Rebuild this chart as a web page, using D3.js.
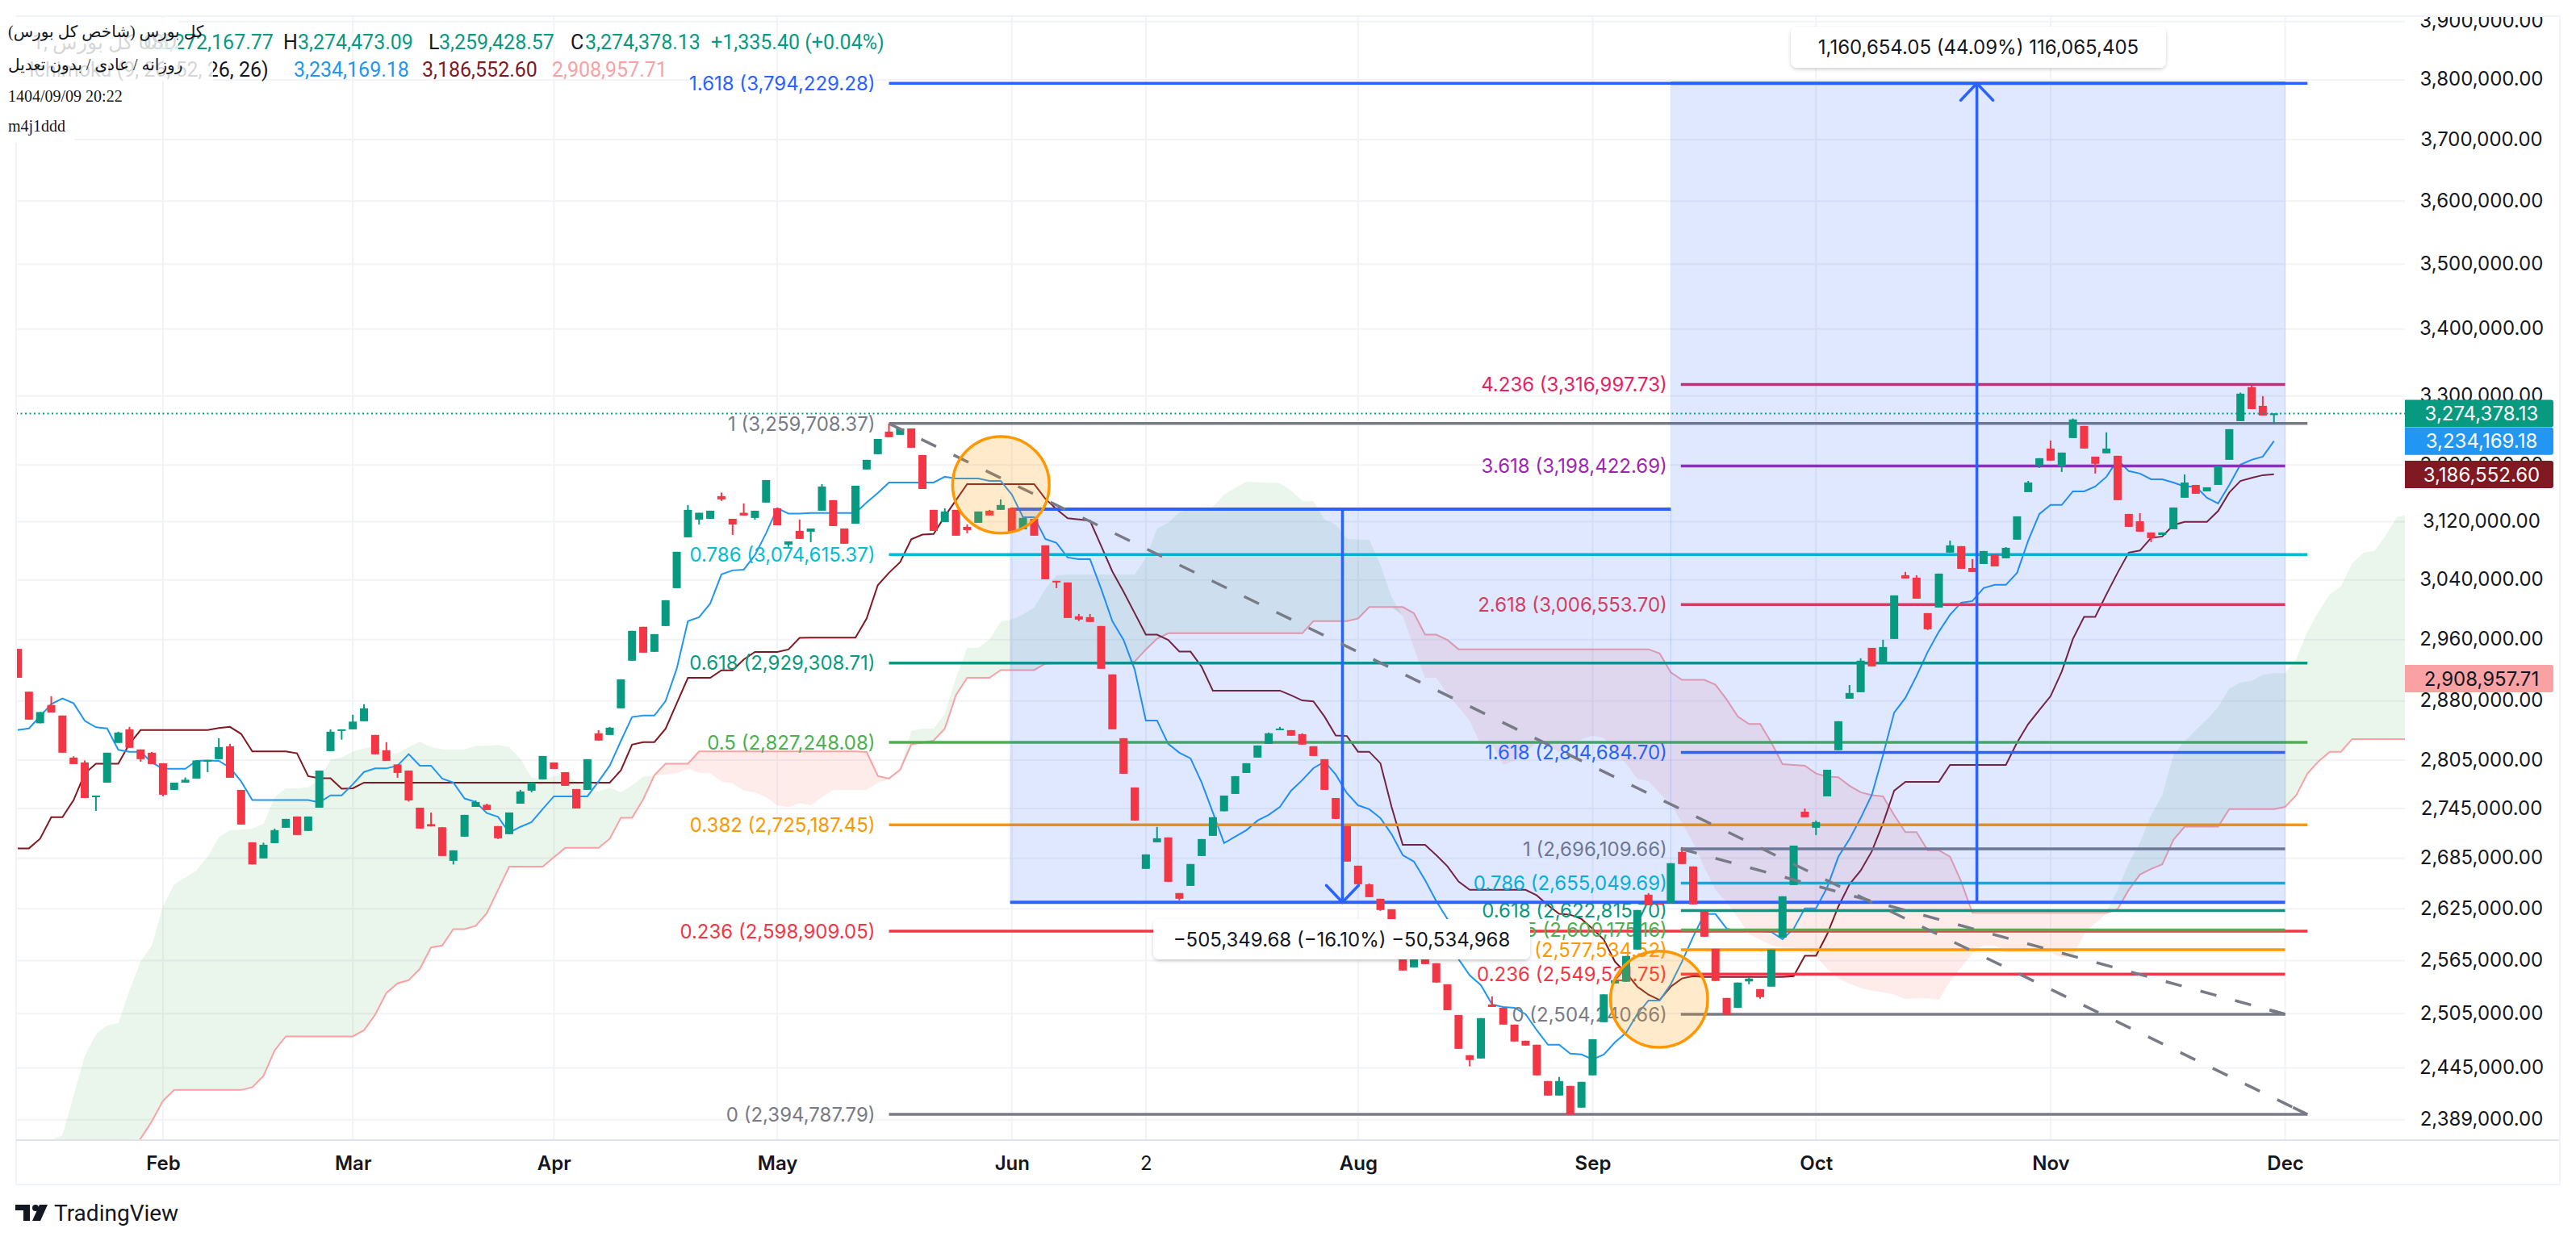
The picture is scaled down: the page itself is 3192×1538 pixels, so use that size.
<!DOCTYPE html>
<html>
<head>
<meta charset="utf-8">
<script src="https://cdnjs.cloudflare.com/ajax/libs/d3/7.8.5/d3.min.js"></script>
<style>
  html, body { margin: 0; padding: 0; background: #fff; }
</style>
</head>
<body>
<div id="viz"></div>
<script>
// candles, in thousands of index points
var opens = [2947.8,2892,2851.5,2874.9,2861.4,2808.2,2802.1,2759,2777,2826.6,2843.8,2818.4,2814.3,2801.1,2768,2777,2782,2804.1,2806.2,2822.4,
2768,2704,2684.6,2703,2721.6,2735.3,2717.7,2746.1,2816.3,2841.8,2843.8,2854.1,2836.7,2817.4,2799.6,2792,2746.1,2726,2722.2,2681.7,
2710.8,2747.1,2749.6,2723.6,2713.8,2751,2767,2781,2802.1,2790,2769,2768,2838.8,2836.7,2870.6,2932.3,2977,2943.9,2978,3028.8,
3098.3,3122.9,3124,3155.7,3124,3132.4,3125.2,3146.7,3138.7,3088.3,3107.2,3106.1,3135.3,3150.1,3110.5,3117.2,3193.5,3215.4,3247.9,3243.3,
3252.6,3214.2,3136.5,3119.5,3136.5,3112.8,3118.4,3135.3,3136.5,3138.7,3109.4,3124,3087.2,3038.7,3036.5,2990.9,2989.8,2978,2914.4,2832.6,
2771,2672.1,2704,2709.9,2643.4,2651.9,2687.5,2711.8,2741.7,2763,2789,2808.2,2825.5,2842.8,2842.8,2837.7,2822.4,2806.2,2758,2723.6,
2675.9,2653.8,2636.7,2624.4,2586,2557.2,2572.9,2561.9,2538,2503.4,2458.9,2455.3,2515.2,2511.5,2492.7,2474.8,2470.4,2430.7,2415,2425.4,
2402,2436.9,2495.4,2538.9,2540.8,2577.6,2641.5,2631.6,2632,2692.4,2675,2621.6,2578.5,2522.5,2511.5,2541.2,2532.5,2535.3,2591.5,2652.9,
2741.2,2721.6,2760,2817.4,2883,2891.3,2949.1,2929.1,2960.9,3046.3,3043,2995.2,3002.7,3077.2,3086.1,3056.1,3061.6,3074.9,3069.4,3095,
3161.4,3199.4,3223.5,3198.2,3238.6,3256.2,3211.9,3216.6,3213.1,3130.8,3120.6,3105,3101.6,3109.4,3153.5,3171.6,3162.5,3171.6,3207.3,3263.2,
3313,3285.5,3272.2];
var closes = [2910,2856.2,2865.8,2865.3,2814.3,2800.1,2758,2761,2814.3,2839.8,2820.4,2806.2,2800.1,2762,2777,2780.5,2804.6,2805.1,2821.4,2783,
2725.5,2677.4,2701,2718.7,2732.4,2712.8,2735.3,2792,2840.8,2843.8,2853.6,2870.6,2812.3,2804.1,2789,2755,2720.6,2723.2,2687.5,2694.3,
2737.3,2753,2743.2,2708.9,2740.2,2766,2777,2810.2,2794,2773,2745.1,2806.2,2829.6,2845.9,2908,2971.6,2942.8,2967.3,3012.5,3078.3,
3136.5,3132.4,3135.3,3151.2,3116.1,3128.6,3135.3,3178.5,3115,3092.7,3096.1,3110.5,3169.3,3113.9,3089.4,3170.4,3207.3,3237.4,3239.8,3252.6,
3224.6,3165.9,3107.2,3134.2,3100.5,3108.3,3134.2,3128.6,3143.3,3106.1,3125.2,3100.5,3040.8,3037.6,2988.7,2986.6,2983.4,2921.7,2843.8,2788,
2730.4,2689.4,2708.9,2656.7,2636.7,2677.9,2707.9,2734.4,2761,2785,2801.1,2823.4,2838.8,2844.8,2835.7,2824.5,2810.2,2768,2732.4,2680.8,
2653.8,2638.6,2623.5,2588.7,2553.6,2571.1,2560.9,2539.9,2508.8,2465.9,2453.6,2499.9,2512.4,2492.7,2474,2469.5,2436.9,2415,2430.7,2394.8,
2429.8,2476.5,2526.6,2542.6,2570.2,2623.5,2629.1,2630.1,2678.9,2677.9,2630.1,2592.4,2541.7,2503.4,2539.9,2544.4,2523.4,2577.6,2639.6,2700,
2734.4,2728.5,2793,2854.1,2890.3,2932.3,2924.8,2950.2,3019,3041.9,3014.6,2973.7,3048.5,3087.2,3055,3050.7,3079.4,3058.3,3083.8,3127.4,
3175,3209.6,3206.2,3217.7,3265.6,3223.5,3201.6,3223.5,3150.1,3112.8,3106.1,3097.2,3105,3139.8,3175,3159.1,3168.2,3198.2,3251.5,3303.4,
3280.8,3271.4,3274.4];
var highs = [2947.8,2892,2865.8,2886.2,2861.4,2809.7,2804.6,2761,2814.3,2840.8,2846.9,2818.4,2815.3,2801.1,2777,2783.4,2804.6,2805.1,2832.6,2825.4,
2768,2704,2703.5,2720.6,2732.4,2735.3,2735.3,2792,2843.8,2843.8,2862.4,2875.8,2836.7,2827.6,2799.6,2792,2746.1,2740.2,2722.2,2694.3,
2737.3,2755,2751,2723.6,2740.2,2768,2777,2810.2,2802.1,2790,2769,2806.2,2842.8,2846.9,2908,2971.6,2977,2967.3,3012.5,3078.3,
3143.3,3132.4,3135.3,3160.8,3124,3145.5,3135.3,3178.5,3138.7,3092.7,3122.9,3110.5,3172.7,3150.1,3110.5,3170.4,3207.3,3237.4,3259.7,3252.6,
3252.6,3214.2,3136.5,3138.7,3136.5,3116.1,3134.2,3136.5,3151.2,3138.7,3125.2,3124,3087.2,3038.7,3036.5,2994.1,2994.1,2978,2914.4,2832.6,
2771,2689.4,2722.6,2709.9,2643.4,2677.9,2707.9,2734.4,2761,2785,2801.1,2823.4,2839.8,2846.9,2842.8,2838.8,2822.4,2806.2,2758,2723.6,
2675.9,2654.8,2636.7,2624.4,2586,2574.8,2572.9,2561.9,2538,2503.4,2458.9,2499.9,2524.3,2511.5,2492.7,2474.8,2470.4,2430.7,2435.1,2425.4,
2429.8,2476.5,2526.6,2542.6,2570.2,2623.5,2643.4,2631.6,2678.9,2698.2,2675,2621.6,2578.5,2522.5,2539.9,2545.4,2532.5,2577.6,2639.6,2700,
2745.1,2730.4,2793,2854.1,2900.6,2935.4,2949.1,2959.8,3019,3050.7,3046.3,2995.2,3048.5,3093.8,3086.1,3068.3,3079.4,3074.9,3084.8,3127.4,
3177.3,3209.6,3235.1,3217.7,3267,3256.2,3211.9,3246.8,3213.1,3130.8,3131.9,3105,3105,3139.8,3186.5,3171.6,3168.2,3198.2,3251.5,3305,
3315.4,3299.8,3274.5];
var lows = [2910,2856.2,2851.5,2865.3,2814.3,2800.1,2758,2742.2,2777,2826.6,2820.4,2803.1,2800.1,2760,2768,2777,2782,2790,2806.2,2783,
2725.5,2677.4,2684.6,2703,2721.6,2712.8,2717.7,2746.1,2816.3,2830.7,2843.8,2854.1,2812.3,2804.1,2783,2753.6,2720.6,2723.2,2687.5,2677.4,
2710.8,2747.1,2743.2,2707.9,2713.8,2751,2765,2781,2794,2773,2745.1,2768,2829.6,2836.7,2870.6,2932.3,2942.8,2943.9,2978,3028.8,
3098.3,3116.1,3124,3149,3101.6,3128.6,3122.9,3146.7,3115,3085,3096.1,3091.6,3135.3,3113.9,3089.4,3117.2,3193.5,3215.4,3239.8,3243.3,
3224.6,3165.9,3107.2,3119.5,3100.5,3103.9,3118.4,3128.6,3136.5,3106.1,3109.4,3100.5,3040.8,3028.8,2988.7,2984.5,2983.4,2921.7,2843.8,2788,
2730.4,2672.1,2704,2656.7,2634.8,2651.9,2687.5,2711.8,2741.7,2763,2789,2808.2,2825.5,2842.8,2835.7,2824.5,2810.2,2768,2732.4,2680.8,
2653.8,2638.6,2622.5,2588.7,2553.6,2557.2,2560.9,2539.9,2508.8,2465.9,2446.6,2455.3,2512.4,2492.7,2474,2469.5,2436.9,2415,2415,2394.8,
2402,2436.9,2495.4,2538.9,2540.8,2577.6,2629.1,2630.1,2632,2677.9,2630.1,2592.4,2541.7,2503.4,2511.5,2538,2521.6,2535.3,2591.5,2652.9,
2734.4,2712.8,2760,2817.4,2883,2891.3,2924.8,2929.1,2960.9,3041.9,3014.6,2972.7,3002.7,3077.2,3055,3050.7,3061.6,3058.3,3069.4,3095,
3161.4,3195.8,3206.2,3190,3238.6,3223.5,3187.7,3216.6,3150.1,3112.8,3106.1,3091.6,3101.6,3109.4,3153.5,3159.1,3162.5,3171.6,3207.3,3263.2,
3280.8,3271.4,3259.4];

// Ichimoku conversion and base lines, one value per bar
var conversion = [2842.9,2845,2860.4,2876,2883.4,2877,2854.6,2846.5,2845,2817.9,2815.5,2815.5,2802.1,2794.2,2794.2,2794.2,2804.1,2804.6,2804.1,2795.6,
2778.5,2755.4,2755.4,2755.4,2755.4,2755.4,2755.4,2752.6,2761.3,2761.3,2775,2790.2,2794.6,2794.6,2798.1,2812.5,2798.1,2798.1,2782,2777,
2757.4,2753,2739.5,2734.8,2715.7,2722.7,2728.5,2744.4,2760,2760,2760,2760,2778.5,2798.1,2829.1,2859.5,2861.3,2861.3,2880,2921.9,
2984.5,2989.8,3008.1,3047.4,3052.9,3053.9,3073.8,3103.9,3138.7,3131.4,3131.4,3132,3132,3132,3132,3132,3146.7,3160.2,3175,3175,
3175,3175,3175,3183.1,3180.8,3180.8,3180.8,3177.3,3177.3,3158,3126.3,3126.3,3096.1,3090.5,3070.5,3068.3,3068.3,3027.7,2984.5,2959.8,
2920.7,2855.1,2855.1,2825.5,2814.3,2807.2,2777,2740.2,2703,2710.8,2718.7,2730.4,2737.3,2747.1,2767,2780,2795,2803.1,2787,2764,
2749,2744.2,2733.4,2713.8,2688.5,2680.8,2658.7,2633.9,2613,2566.5,2548,2537,2515.2,2512.4,2511.5,2504.3,2486.5,2470.4,2470.4,2460.6,
2459.7,2454.4,2459.7,2473,2483.8,2504.3,2519.7,2519.7,2538,2563.7,2592.4,2618.8,2618.8,2601.7,2598.9,2598.9,2598.9,2598,2589.6,2601.7,
2625.4,2625.4,2650,2686.6,2707.9,2733.4,2762,2811.3,2865.2,2884,2912.4,2943.9,2970.5,2993,3009.2,3011.4,3028.8,3033.2,3033.2,3049.6,
3093.9,3130.8,3143.3,3143.3,3162.5,3162.5,3169.3,3183.1,3207.3,3191.2,3187.7,3179.6,3179.6,3175,3169.3,3169.3,3153.5,3145.5,3171.6,3200.5,
3207.3,3211.9,3234.2];
var base = [2696.7,2696.7,2708.3,2734.4,2734.4,2755.4,2788.3,2800.6,2800.6,2800.6,2825.5,2842.9,2842.9,2842.9,2842.9,2842.9,2842.9,2842.9,2845.4,2846.9,
2838,2815.8,2815.8,2815.8,2815.8,2813.5,2785,2782.4,2782.4,2769.5,2770,2777,2777,2777,2777,2777,2777,2777,2777,2777,
2777,2777,2777,2777,2777,2777,2777,2777,2777,2777,2777,2777,2777,2777,2792.2,2824.5,2827.6,2827.6,2844.5,2877,
2910,2910,2910,2919.8,2919.8,2933.9,2943.7,2943.7,2943.7,2947,2962.4,2962.7,2962.7,2962.7,2962.7,2962.7,2988,3032.8,3049.6,3064.2,
3095.7,3102,3102.8,3127.4,3150.1,3172.7,3172.7,3172.7,3172.7,3172.7,3172.7,3172.7,3152,3137.4,3124.8,3123,3121.4,3086.4,3051.4,3024,
2995.2,2966.6,2966.6,2959.5,2944.2,2944.2,2924.2,2893.4,2893.4,2893.4,2893.4,2893.4,2893.4,2893.4,2887.5,2880.7,2879.6,2860,2836,2835.4,
2815.5,2815.5,2801.1,2747.1,2701,2701,2701,2688.5,2675.2,2657,2647.2,2647.2,2647.2,2647.2,2647.2,2647.2,2640.7,2629.3,2619,2618,
2613,2601.7,2589,2563.7,2550.8,2535.3,2526.2,2520.2,2535.3,2544.6,2547.2,2546.3,2546.3,2546.3,2546.3,2546.3,2546.3,2546.3,2546.3,2547.2,
2570.4,2570.4,2595.3,2627.6,2653.8,2670,2693.3,2727,2767,2778,2778,2778,2778,2799,2799,2799,2799,2799,2799,2827,
2850.5,2868.6,2886.2,2918,2960.9,2990.2,2990.2,3020.4,3049.6,3077.2,3080,3097.5,3099.4,3115.3,3119.7,3119.7,3119.7,3134.9,3160.8,3177.1,
3181.5,3185.4,3186.6];

// cloud spans, shifted 26 bars forward so they run past the last candle
var leadA = [2340,2350,2360,2367.6,2372.6,2415,2458,2482,2491.8,2494,2530.7,2564,2582,2627.5,2653.8,2661.8,2670,2686.7,2709.9,2718.7,
2719.2,2720.6,2726,2759,2770,2770,2771,2781,2805.6,2808.2,2815.6,2819.6,2823.1,2813.3,2813.3,2821.4,2828,2821.4,2818.4,2818.4,
2818.4,2823.1,2823.1,2824.1,2821.4,2806.6,2783.4,2781,2785,2788.3,2778.5,2769,2766,2771,2765,2773.6,2784.4,2786,2787,2788.3,
2794.2,2789.3,2788.3,2778.5,2776,2767.2,2765,2759,2749,2746.7,2751.6,2749,2759,2768,2768,2768,2768,2777,2783,2794,
2841.8,2844.8,2844.8,2863.4,2910,2949,2949.4,2959.8,2983.8,2986.6,2993.4,3002.7,3027.7,3046.3,3047.4,3047.4,3047.4,3047.4,3047.4,3047.4,
3047.4,3069.7,3110.5,3118.4,3133,3137.4,3137,3140.8,3158,3167,3176,3175.4,3175,3174.2,3163.6,3149.3,3148.6,3122.9,3116.1,3096.1,
3095,3094.7,3060.5,3016.8,2992,2949,2910,2910,2889.3,2871.9,2855,2824.5,2824.5,2799,2804.1,2814.3,2827.6,2824.5,2814.3,2824.5,
2830.9,2836,2832.6,2814.3,2800.4,2782,2779,2764,2750.4,2727.5,2703.4,2674,2647.2,2632.6,2614.6,2595.3,2589,2582.6,2579.4,2579.4,
2577.9,2569.9,2555.6,2544.6,2538.4,2533.6,2530.7,2528.9,2526.2,2521.2,2522.1,2522.1,2520.2,2541.7,2557.2,2572.9,2582.6,2582.6,2574.1,2574.1,
2574.1,2574.1,2574.1,2568.3,2570.2,2595.3,2608.3,2621.6,2647.2,2678.9,2703.4,2737.3,2761.5,2811.4,2829,2842.8,2856.4,2872.2,2896,2904,
2905.9,2914,2916,2916,2934.4,2970.9,2997.5,3020.4,3031,3062,3077,3079.4,3100.6,3126.3,3130.5];
var leadB = [2340,2340,2340,2340,2340,2340,2340,2340,2345,2350,2358,2369,2387.3,2409.3,2421,2421,2421,2421,2421,2421,
2421,2424,2436.2,2464.2,2479.6,2479.6,2479.6,2479.6,2479.6,2479.6,2479.6,2486.5,2503.7,2528.1,2539,2542.6,2555.4,2580,2582.2,2601.3,
2601.3,2605,2619.9,2647.2,2674.7,2674.7,2674.7,2674.7,2686,2697.2,2697.2,2697.2,2697.2,2708.3,2733.8,2733.8,2756.5,2786,2800.6,2800.6,
2800.6,2815.8,2815.8,2815.8,2815.8,2815.8,2815.8,2815.8,2815.8,2815.8,2815.8,2815.8,2815.8,2815.8,2815.8,2815.8,2815.2,2785.3,2782,2793,
2824.8,2826.8,2829.6,2844.8,2887.5,2910,2910,2910,2920,2920,2920,2920,2928.4,2929,2929,2929,2929,2929,2929,2929,
2931.2,2947,2961.2,2968.4,2968.4,2968.4,2968.4,2968.4,2968.4,2968.4,2968.4,2968.4,2968.4,2968.4,2968.4,2968.4,2984.5,2984.5,2984.5,2984.5,
2988,3003.4,3003.4,3003.4,3003.4,2995.2,2966.6,2966.6,2959.5,2947.3,2947.3,2947.3,2947.3,2947.3,2947.3,2947.3,2947.3,2947.3,2947.3,2947.3,
2947.3,2947.3,2947.3,2947.3,2947.3,2947.3,2947.3,2941.8,2917,2907.3,2907.3,2907.3,2901,2882,2860,2850.5,2850.5,2827,2800,2799,
2798,2788.3,2784.4,2783.7,2773,2765,2761.5,2760,2737,2716.3,2716.3,2694.3,2694.3,2686.7,2657,2620.2,2620.2,2620.2,2620.2,2620.2,
2620.2,2620.2,2620.2,2620.2,2620.2,2620.2,2620.2,2620.2,2624.4,2647.2,2665.3,2672.1,2677.5,2706.9,2722.9,2722.9,2722.9,2722.9,2744.4,2744.4,
2744.4,2744.4,2744.4,2747,2761.5,2788.3,2803.6,2815.5,2815.5,2831.5,2831.5,2831.5,2831.5,2831.5,2831.5];

var priceTicks = [3900000,3800000,3700000,3600000,3500000,3400000,3300000,3200000,3120000,3040000,2960000,2880000,2805000,2745000,2685000,2625000,2565000,2505000,2445000,2389000];
var monthBars = [13,30,48,68,89,101,120,141,161,182,203];
var monthNames = ["Feb","Mar","Apr","May","Jun","2","Aug","Sep","Oct","Nov","Dec"];

// fibonacci levels
var fibLeftRatios = ["0","0.236","0.382","0.5","0.618","0.786","1","1.618"];
var fibLeftPrices = [2394787.79,2598909.05,2725187.45,2827248.08,2929308.71,3074615.37,3259708.37,3794229.28];
var fibRightRatios = ["0","0.236","0.382","0.5","0.618","0.786","1","1.618","2.618","3.618","4.236"];
var fibRightPrices = [2504240.66,2549521.75,2577534.52,2600175.16,2622815.70,2655049.69,2696109.66,2814684.70,3006553.70,3198422.69,3316997.73];
var fibColors = {"0":"#787B86","0.236":"#F23645","0.382":"#FF9800","0.5":"#4CAF50","0.618":"#089981","0.786":"#00BCD4","1":"#787B86","1.618":"#2962FF","2.618":"#F23645","3.618":"#9C27B0","4.236":"#E91E63"};

var width = 3192, height = 1538;
var plotL = 20, plotR = 2980, plotT = 20, plotB = 1413, axisB = 1468, axisR = 3172;
var green = "#089981", red = "#F23645", blueInd = "#2196F3", brownInd = "#801922", pinkInd = "#FAA1A4", drawBlue = "#2962FF";
var axisFont = "Inter, Roboto, sans-serif", legendFont = "Roboto, sans-serif";

var x = d3.scaleLinear().domain([0, 214]).range([22, 2983.8]);
var yScale = d3.scaleLog().domain([3800000, 2389000]).range([99, 1387.8]);
var yk = function (k) { return yScale(k * 1000); };

var fmt = d3.format(",.2f");

var svg = d3.select("#viz").append("svg").attr("width", width).attr("height", height)
    .attr("font-family", axisFont).style("display", "block");

svg.append("clipPath").attr("id", "plot").append("rect")
    .attr("x", plotL).attr("y", plotT).attr("width", plotR - plotL).attr("height", plotB - plotT);
svg.append("clipPath").attr("id", "axisClip").append("rect")
    .attr("x", plotR).attr("y", plotT).attr("width", axisR - plotR).attr("height", plotB - plotT);

// grid
var gridColor = "#F2F3F6";
svg.append("g").selectAll("line").data(priceTicks).enter().append("line")
    .attr("x1", plotL).attr("x2", plotR)
    .attr("y1", function (d) { return yScale(d); }).attr("y2", function (d) { return yScale(d); })
    .attr("stroke", gridColor).attr("stroke-width", 2);
svg.append("g").selectAll("line").data(monthBars).enter().append("line")
    .attr("x1", function (d) { return x(d); }).attr("x2", function (d) { return x(d); })
    .attr("y1", plotT).attr("y2", plotB)
    .attr("stroke", gridColor).attr("stroke-width", 2);

var chart = svg.append("g").attr("clip-path", "url(#plot)");

// cloud
var idx = d3.range(leadA.length);
var cloudGreen = d3.area().x(function (d) { return x(d); })
    .y0(function (d) { return yk(Math.min(leadA[d], leadB[d])); })
    .y1(function (d) { return yk(leadA[d]); });
var cloudRed = d3.area().x(function (d) { return x(d); })
    .y0(function (d) { return yk(Math.min(leadA[d], leadB[d])); })
    .y1(function (d) { return yk(leadB[d]); });
chart.append("path").attr("d", cloudGreen(idx)).attr("fill", "#43A047").attr("opacity", 0.11);
chart.append("path").attr("d", cloudRed(idx)).attr("fill", "#F44336").attr("opacity", 0.1);

// indicator lines
function lineOf(values, color) {
    var gen = d3.line().x(function (d, i) { return x(i); }).y(function (d) { return yk(d); });
    chart.append("path").attr("d", gen(values)).attr("fill", "none").attr("stroke", color).attr("stroke-width", 2);
}
lineOf(leadB, pinkInd);
lineOf(base, brownInd);
lineOf(conversion, blueInd);

// fib levels with labels on the left of each line
function drawFib(ratios, prices, barStart, barEnd) {
    ratios.forEach(function (r, i) {
        var py = yScale(prices[i]);
        chart.append("line")
            .attr("x1", x(barStart)).attr("x2", x(barEnd)).attr("y1", py).attr("y2", py)
            .attr("stroke", fibColors[r]).attr("stroke-width", 3.5);
        chart.append("text")
            .attr("x", x(barStart) - 17).attr("y", py).attr("dy", "0.36em")
            .attr("text-anchor", "end").attr("font-size", 24)
            .attr("fill", fibColors[r])
            .text(r + " (" + fmt(prices[i]) + ")");
    });
}
drawFib(fibLeftRatios, fibLeftPrices, 78, 205);
drawFib(fibRightRatios, fibRightPrices, 148.9, 203);

// date and price ranges
var rangeBars = [[88.85, 148], [148, 203]];
var rangePrices = [[3137500, 2632500], [3794229.28, 2632500]];
rangeBars.forEach(function (b, i) {
    var top = yScale(rangePrices[i][0]), bot = yScale(rangePrices[i][1]);
    chart.append("rect").attr("x", x(b[0])).attr("y", top)
        .attr("width", x(b[1]) - x(b[0])).attr("height", bot - top)
        .attr("fill", drawBlue).attr("fill-opacity", 0.15)
        .attr("stroke", drawBlue).attr("stroke-opacity", 0.1);
    [top, bot].forEach(function (ly) {
        chart.append("line").attr("x1", x(b[0])).attr("x2", x(b[1])).attr("y1", ly).attr("y2", ly)
            .attr("stroke", drawBlue).attr("stroke-width", 4);
    });
});

// candles
var bars = chart.append("g").selectAll("g").data(opens).enter().append("g");
function barColor(i) { return closes[i] >= opens[i] ? green : red; }
bars.append("line")
    .attr("x1", function (d, i) { return x(i); }).attr("x2", function (d, i) { return x(i); })
    .attr("y1", function (d, i) { return yk(highs[i]); }).attr("y2", function (d, i) { return yk(lows[i]); })
    .attr("stroke", function (d, i) { return barColor(i); }).attr("stroke-width", 2);
bars.append("rect")
    .attr("x", function (d, i) { return x(i) - 5; }).attr("width", 10)
    .attr("y", function (d, i) { return yk(Math.max(opens[i], closes[i])); })
    .attr("height", function (d, i) { return Math.max(2, yk(Math.min(opens[i], closes[i])) - yk(Math.max(opens[i], closes[i]))); })
    .attr("fill", function (d, i) { return barColor(i); });

// range arrows
var arrowBars = [118.6, 175.4];
function arrow(bar, fromPrice, toPrice, dir) {
    var ax = x(bar), y0 = yScale(fromPrice), y1 = yScale(toPrice);
    chart.append("line").attr("x1", ax).attr("x2", ax).attr("y1", y0).attr("y2", y1)
        .attr("stroke", drawBlue).attr("stroke-width", 3.5);
    chart.append("path")
        .attr("d", "M" + (ax - 20) + "," + (y1 - dir * 21) + "L" + ax + "," + y1 + "L" + (ax + 20) + "," + (y1 - dir * 21))
        .attr("fill", "none").attr("stroke", drawBlue).attr("stroke-width", 3.5).attr("stroke-linecap", "round");
}
arrow(arrowBars[0], rangePrices[0][0], rangePrices[0][1], 1);
arrow(arrowBars[1], rangePrices[1][1], rangePrices[1][0], -1);

// dashed trend lines, each closed by a short solid stub
var trendBars = [[78, 205], [148.9, 203]];
var trendPrices = [[3259708.37, 2394787.79], [2696109.66, 2504240.66]];
trendBars.forEach(function (b, i) {
    var x1 = x(b[0]), x2 = x(b[1]), y1 = yScale(trendPrices[i][0]), y2 = yScale(trendPrices[i][1]);
    chart.append("line").attr("x1", x1).attr("x2", x2).attr("y1", y1).attr("y2", y2)
        .attr("stroke", "#787B86").attr("stroke-width", 3.5).attr("stroke-dasharray", "20.5 24");
    var a = Math.atan2(y2 - y1, x2 - x1), s = 20;
    chart.append("line")
        .attr("x1", x2 - s * Math.cos(a)).attr("y1", y2 - s * Math.sin(a)).attr("x2", x2).attr("y2", y2)
        .attr("stroke", "#787B86").attr("stroke-width", 3.5);
});

// highlight circles
var circleBars = [[83.7, 92.35], [142.6, 151.3]];
var circlePrices = [[3240800, 3103900], [2575700, 2467500]];
circleBars.forEach(function (b, i) {
    var cx = (x(b[0]) + x(b[1])) / 2, cy = (yScale(circlePrices[i][0]) + yScale(circlePrices[i][1])) / 2;
    chart.append("ellipse").attr("cx", cx).attr("cy", cy)
        .attr("rx", (x(b[1]) - x(b[0])) / 2)
        .attr("ry", (yScale(circlePrices[i][1]) - yScale(circlePrices[i][0])) / 2)
        .attr("fill", "#FF9800").attr("fill-opacity", 0.2)
        .attr("stroke", "#FF9800").attr("stroke-width", 3.5);
});

// dotted last price line
svg.append("line").attr("x1", plotL).attr("x2", plotR).attr("y1", yScale(3274378.13)).attr("y2", yScale(3274378.13))
    .attr("stroke", green).attr("stroke-width", 2).attr("stroke-dasharray", "2 3.5");

// range tooltips
var tipLabels = ["\u2212505,349.68 (\u221216.10%) \u221250,534,968", "1,160,654.05 (44.09%) 116,065,405"];
var tipBoxes = [{l: 1429, t: 1139, r: 1896, b: 1189}, {l: 2219, t: 33, r: 2684, b: 84}];
var defs = svg.append("defs");
var shadow = defs.append("filter").attr("id", "tipShadow").attr("x", "-10%").attr("y", "-30%").attr("width", "120%").attr("height", "170%");
shadow.append("feDropShadow").attr("dx", 0).attr("dy", 2).attr("stdDeviation", 2).attr("flood-color", "#000").attr("flood-opacity", 0.18);
tipLabels.forEach(function (t, i) {
    var b = tipBoxes[i];
    svg.append("rect").attr("x", b.l).attr("y", b.t).attr("width", b.r - b.l).attr("height", b.b - b.t)
        .attr("rx", 8).attr("fill", "#fff").attr("filter", "url(#tipShadow)");
    svg.append("text").attr("x", (b.l + b.r) / 2).attr("y", (b.t + b.b) / 2).attr("dy", "0.36em")
        .attr("text-anchor", "middle").attr("font-size", 24).attr("fill", "#131722").text(t);
});

// price axis
var priceAxis = d3.axisRight(yScale).tickValues(priceTicks).tickFormat(fmt).tickSize(0).tickPadding(95);
var paClip = svg.append("g").attr("clip-path", "url(#axisClip)");
var paInner = paClip.append("g").attr("transform", "translate(" + plotR + ",0)").call(priceAxis);
paInner.select(".domain").remove();
paInner.selectAll("text").attr("text-anchor", "middle").attr("font-size", 24).attr("fill", "#131722")
    .attr("font-family", axisFont).attr("dy", "0.29em");

// last value tags
var tagValues = [3274378.13, 3234169.18, 3186552.60, 2908957.71];
var tagFills = [green, blueInd, brownInd, pinkInd];
var tagInk = ["#fff", "#fff", "#fff", "#131722"];
tagValues.forEach(function (v, i) {
    var cy = yScale(v);
    svg.append("path")
        .attr("d", "M" + plotR + "," + (cy - 17) + "H3161q3,0 3,3V" + (cy + 14) + "q0,3 -3,3H" + plotR + "Z")
        .attr("fill", tagFills[i]);
    svg.append("text").attr("x", plotR + 95).attr("y", cy).attr("dy", "0.36em").attr("text-anchor", "middle")
        .attr("font-size", 24).attr("fill", tagInk[i]).text(fmt(v));
});

// time axis
var timeAxis = d3.axisBottom(x).tickValues(monthBars)
    .tickFormat(function (d) { return monthNames[monthBars.indexOf(d)]; }).tickSize(0).tickPadding(20);
var ta = svg.append("g").attr("transform", "translate(0," + plotB + ")").call(timeAxis);
ta.select(".domain").remove();
ta.selectAll("text").attr("font-size", 24).attr("fill", "#131722").attr("font-family", axisFont)
    .attr("font-weight", function (d, i) { return monthNames[i] === "2" ? 400 : 600; });

// frame
var frame = [[plotL, plotT, axisR, plotT, "#F0F3FA"], [plotL, 177, plotL, axisB, "#F0F3FA"],
    [plotL, plotB, axisR, plotB, "#E0E3EB"], [plotL, axisB, axisR, axisB, "#F0F3FA"],
    [axisR, plotT, axisR, axisB, "#F0F3FA"]];
frame.forEach(function (f) {
    svg.append("line").attr("x1", f[0]).attr("y1", f[1]).attr("x2", f[2]).attr("y2", f[3])
        .attr("stroke", f[4]).attr("stroke-width", 2);
});

// legend
var legendLine1 = [["1, \u06A9\u0644 \u0628\u0648\u0631\u0633 USD", 40, "#131722"], ["O", 178, "#131722"], ["3,272,167.77", 196, green],
    ["H", 351, "#131722"], ["3,274,473.09", 369, green], ["L", 531, "#131722"], ["3,259,428.57", 544, green],
    ["C", 707, "#131722"], ["3,274,378.13", 725, green], ["+1,335.40 (+0.04%)", 881, green]];
var legendLine2 = [["Ichimoku (9, 26, 52, 26, 26)", 36, "#131722"], ["3,234,169.18", 364, blueInd],
    ["3,186,552.60", 523, brownInd], ["2,908,957.71", 684, pinkInd]];
legendLine1.forEach(function (d) {
    svg.append("text").attr("x", d[1]).attr("y", 52).attr("dy", "0.35em").attr("font-size", 25).attr("font-family", legendFont).attr("fill", d[2]).text(d[0]);
});
legendLine2.forEach(function (d) {
    svg.append("text").attr("x", d[1]).attr("y", 86).attr("dy", "0.35em").attr("font-size", 25).attr("font-family", legendFont).attr("fill", d[2]).text(d[0]);
});

// the white note pasted over the legend
var noteRects = [[8, 22, 213, 42, 0.82], [8, 64, 256, 36, 0.82], [8, 100, 150, 36, 1], [8, 136, 84, 38, 1]];
noteRects.forEach(function (r) {
    svg.append("rect").attr("x", r[0]).attr("y", r[1]).attr("width", r[2]).attr("height", r[3])
        .attr("fill", "#fff").attr("fill-opacity", r[4]);
});
var noteLines = ["\u06A9\u0644 \u0628\u0648\u0631\u0633 (\u0634\u0627\u062E\u0635 \u06A9\u0644 \u0628\u0648\u0631\u0633)",
    "\u0631\u0648\u0632\u0627\u0646\u0647 / \u0639\u0627\u062F\u06CC / \u0628\u062F\u0648\u0646 \u062A\u0639\u062F\u06CC\u0644",
    "1404/09/09 20:22", "m4j1ddd"];
var noteFont = '"Liberation Serif", "DejaVu Sans", serif';
noteLines.forEach(function (t, i) {
    svg.append("text").attr("x", 10).attr("y", [40, 81, 120, 157][i]).attr("dy", "0.3em")
        .attr("font-size", 20).attr("font-family", noteFont).attr("fill", "#131722").text(t);
});

// TradingView logo
svg.append("path")
    .attr("d", "M19,1493H37V1513H29V1500H19Z M59,1493H49L40,1513H50Z")
    .attr("fill", "#131722");
svg.append("circle").attr("cx", 44).attr("cy", 1497).attr("r", 4).attr("fill", "#131722");
svg.append("text").attr("x", 67).attr("y", 1503).attr("dy", "0.35em").attr("font-size", 28).attr("font-family", legendFont).attr("fill", "#131722").text("TradingView");
</script>
</body>
</html>
